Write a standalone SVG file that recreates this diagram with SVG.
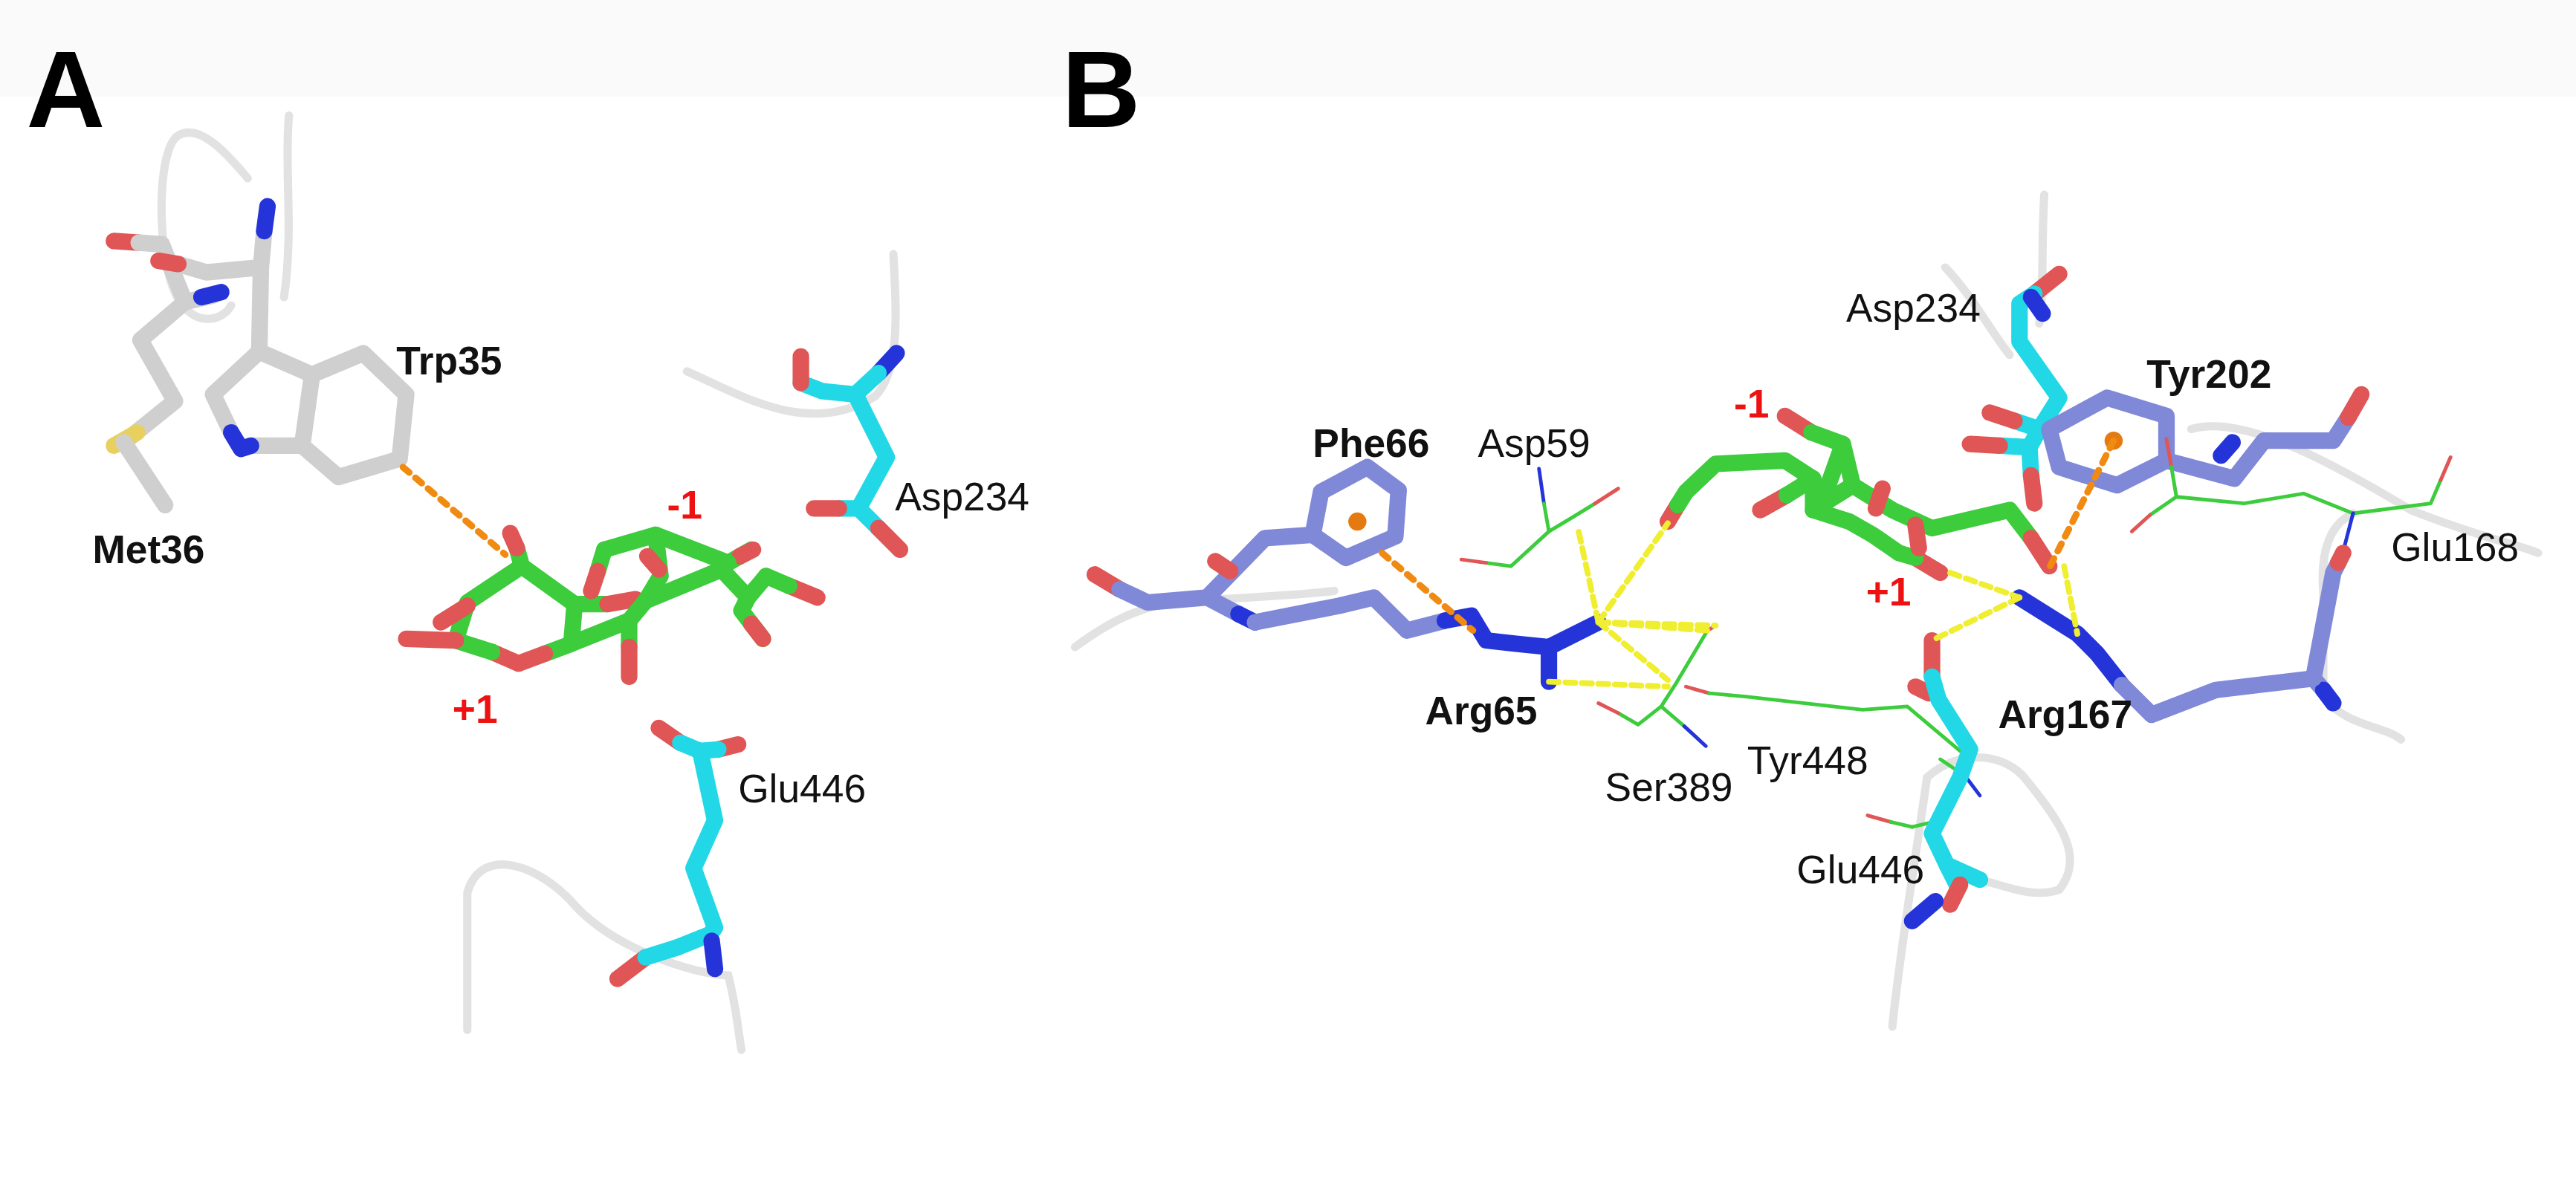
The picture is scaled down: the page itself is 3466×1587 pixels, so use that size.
<svg xmlns="http://www.w3.org/2000/svg" width="3466" height="1587" viewBox="0 0 3466 1587">
<style>
.rib{fill:none;stroke:#e2e2e2;stroke-width:5;stroke-linecap:round}
.s{fill:none;stroke-width:10;stroke-linecap:round;stroke-linejoin:round}
.t{fill:none;stroke-width:2.2;stroke-linecap:round;stroke-linejoin:round}
.w{stroke:#cfcfcf}.g{stroke:#3ccc3c}.c{stroke:#22d8e6}.p{stroke:#8088d8}
.r{stroke:#e05555}.b{stroke:#2434d8}.y{stroke:#e8d060}
.hb{fill:none;stroke:#f0ee30;stroke-width:3.5;stroke-dasharray:6 4;stroke-linecap:round}
.pi{fill:none;stroke:#f08a10;stroke-width:4;stroke-dasharray:5 5;stroke-linecap:round}
.lab{font-family:'Liberation Sans',Arial,sans-serif;font-size:24px;fill:#111}
.bl{font-weight:bold}
.red{fill:#ee1111;font-weight:bold}
.big{font-family:'Liberation Sans',Arial,sans-serif;font-size:66px;font-weight:bold;fill:#000}
</style>
<rect width="3466" height="1587" fill="#fff"/>
<rect x="0" y="0" width="3466" height="130" fill="#fafafa"/>
<g transform="scale(2.2218)">
<text class="big" x="16" y="77">A</text>
<text class="big" x="643" y="77">B</text>
<g id="panelA">
<path class="rib" d="M150,108 C135,90 120,75 108,82 C95,90 95,150 105,175 C115,200 135,195 140,185"/>
<path class="rib" d="M175,70 C172,100 178,140 172,180"/>
<path class="rib" d="M416,225 C450,240 490,265 530,240 C545,225 543,190 541,154"/>
<path class="rib" d="M283,624 L283,541 C290,515 320,520 345,545 C370,575 420,590 441,591 C446,610 447,625 449,636"/>
<g id="met36">
<polyline class="s w" points="129,179 112,183 85,206 106,243 75,268"/>
<line class="s y" x1="83" y1="262" x2="69" y2="270"/>
<line class="s w" x1="75" y1="268" x2="100" y2="306"/>
<line class="s r" x1="69" y1="146" x2="84" y2="147"/>
<polyline class="s w" points="84,147 98,148 112,183"/>
<line class="s b" x1="122" y1="180" x2="134" y2="177"/>
</g>
<g id="trp35">
<polygon class="s w" points="220,214 246,239 242,278 205,289 183,270 189,227"/>
<polyline class="s w" points="189,227 157,213 129,239 140,262"/>
<polyline class="s w" points="152,270 183,270"/>
<polyline class="s b" points="140,262 146,272 152,270"/>
<polyline class="s w" points="157,213 158,162 160,140"/>
<line class="s b" x1="160" y1="140" x2="162" y2="125"/>
<polyline class="s w" points="158,162 125,165 108,160"/>
<line class="s r" x1="108" y1="160" x2="96" y2="158"/>
</g>
<line class="pi" x1="244" y1="283" x2="306" y2="336"/>
<g id="sugarA">
<polyline class="s g" points="316,343 348,366 346,390 330,396"/>
<line class="s r" x1="330" y1="396" x2="314" y2="402"/>
<line class="s r" x1="314" y1="402" x2="298" y2="395"/>
<polyline class="s g" points="298,395 276,388 283,365 316,343"/>
<line class="s r" x1="276" y1="388" x2="246" y2="387"/>
<line class="s r" x1="283" y1="367" x2="267" y2="377"/>
<line class="s g" x1="316" y1="343" x2="313" y2="332"/>
<line class="s r" x1="313" y1="332" x2="309" y2="323"/>
<polyline class="s g" points="348,366 368,366"/>
<line class="s r" x1="368" y1="366" x2="385" y2="363"/>
<polyline class="s g" points="381,376 381,392"/>
<line class="s r" x1="381" y1="392" x2="381" y2="410"/>
<polyline class="s g" points="346,390 381,376 391,364"/>
<polyline class="s g" points="391,364 437,345 453,362 449,370 462,387"/>
<line class="s r" x1="455" y1="378" x2="462" y2="387"/>
<polyline class="s g" points="453,362 464,349"/>
<line class="s r" x1="478" y1="355" x2="495" y2="362"/>
<line class="s g" x1="464" y1="349" x2="478" y2="355"/>
<polyline class="s g" points="366,333 397,324 441,341 455,333"/>
<line class="s r" x1="448" y1="337" x2="456" y2="333"/>
<polyline class="s g" points="366,333 362,346"/>
<line class="s r" x1="362" y1="346" x2="358" y2="358"/>
<polyline class="s g" points="397,324 400,349 391,364"/>
<line class="s r" x1="392" y1="337" x2="399" y2="345"/>
<polyline class="s g" points="437,345 441,341"/>
</g>
<g id="asp234A">
<line class="s b" x1="543" y1="214" x2="532" y2="226"/>
<polyline class="s c" points="532,226 518,239 498,237 485,232"/>
<line class="s r" x1="485" y1="232" x2="485" y2="216"/>
<polyline class="s c" points="518,239 537,277 520,308 508,308"/>
<line class="s r" x1="508" y1="308" x2="493" y2="308"/>
<line class="s c" x1="520" y1="308" x2="532" y2="320"/>
<line class="s r" x1="532" y1="320" x2="545" y2="333"/>
</g>
<g id="glu446A">
<line class="s r" x1="399" y1="441" x2="412" y2="450"/>
<line class="s r" x1="447" y1="451" x2="435" y2="454"/>
<polyline class="s c" points="412,450 424,455 435,454"/>
<polyline class="s c" points="424,455 433,497 420,526 433,562 430,566 410,574"/>
<line class="s r" x1="391" y1="580" x2="374" y2="593"/>
<line class="s c" x1="410" y1="574" x2="391" y2="580"/>
<line class="s b" x1="431" y1="570" x2="433" y2="587"/>
</g>
<text class="lab bl" x="56" y="341">Met36</text>
<text class="lab bl" x="240" y="227">Trp35</text>
<text class="lab" x="542" y="309">Asp234</text>
<text class="lab" x="447" y="486">Glu446</text>
<text class="lab red" x="404" y="314">-1</text>
<text class="lab red" x="274" y="438">+1</text>
</g>
<g id="panelB">
<path class="rib" d="M651,392 C670,378 690,366 720,364 C760,362 790,360 808,358"/>
<path class="rib" d="M1238,118 C1236,150 1238,175 1235,196"/>
<path class="rib" d="M1178,162 C1195,180 1205,200 1217,215"/>
<path class="rib" d="M1327,260 C1360,250 1420,285 1460,309 C1500,325 1525,330 1537,335"/>
<path class="rib" d="M1425,311 C1410,318 1405,335 1407,360 L1407,422 C1420,440 1445,440 1454,448"/>
<path class="rib" d="M1146,622 C1150,580 1160,520 1167,471 C1185,455 1210,455 1225,470 C1250,500 1262,520 1247,539 C1230,545 1210,535 1199,533"/>
<g id="phe66">
<polygon class="s p" points="800,298 828,283 847,297 845,325 815,338 795,324"/>
<circle cx="822" cy="316" r="5.5" fill="#e57a10"/>
<line class="s r" x1="663" y1="348" x2="678" y2="357"/>
<polyline class="s p" points="678,357 695,365 731,362 766,326 795,324"/>
<line class="s r" x1="736" y1="340" x2="745" y2="346"/>
<polyline class="s p" points="731,362 750,372"/>
<line class="s b" x1="750" y1="372" x2="760" y2="377"/>
</g>
<g id="arg65">
<polyline class="s p" points="760,377 811,367 832,362 852,382 875,376"/>
<polyline class="s b" points="875,376 891,373 900,388 918,390 938,392"/>
<line class="s b" x1="938" y1="392" x2="968" y2="377"/>
<line class="s b" x1="938" y1="392" x2="938" y2="413"/>
</g>
<line class="pi" x1="837" y1="335" x2="892" y2="382"/>
<g id="asp59">
<polyline class="t b" points="932,284 935,305"/>
<polyline class="t g" points="935,305 938,322 915,343 900,341"/>
<line class="t r" x1="900" y1="341" x2="885" y2="339"/>
<polyline class="t g" points="938,322 953,313 966,305"/>
<line class="t r" x1="966" y1="305" x2="980" y2="296"/>
</g>
<g id="ser389">
<line class="t r" x1="1034" y1="382" x2="1039" y2="379"/>
<polyline class="t g" points="1034,382 1015,414 1006,428 992,439 980,432"/>
<line class="t r" x1="980" y1="432" x2="968" y2="426"/>
<line class="t g" x1="1006" y1="428" x2="1020" y2="440"/>
<line class="t b" x1="1020" y1="440" x2="1033" y2="452"/>
</g>
<g id="tyr448">
<line class="t r" x1="1021" y1="416" x2="1035" y2="420"/>
<polyline class="t g" points="1035,420 1057,422 1128,430 1155,428 1193,460 1175,497 1158,501"/>
<line class="t r" x1="1145" y1="498" x2="1131" y2="494"/>
<line class="t g" x1="1158" y1="501" x2="1145" y2="498"/>
<line class="t g" x1="1175" y1="460" x2="1190" y2="470"/>
<line class="t b" x1="1190" y1="470" x2="1199" y2="482"/>
</g>
<g id="glu446B">
<line class="s r" x1="1170" y1="388" x2="1170" y2="410"/>
<line class="s r" x1="1160" y1="416" x2="1168" y2="420"/>
<polyline class="s c" points="1170,410 1174,424 1193,454 1187,471 1170,505 1179,524 1199,533"/>
<polyline class="s c" points="1179,524 1185,536"/>
<line class="s r" x1="1187" y1="536" x2="1181" y2="548"/>
<line class="s b" x1="1172" y1="546" x2="1158" y2="558"/>
</g>
<g id="sugarB">
<line class="s r" x1="1010" y1="316" x2="1016" y2="306"/>
<polyline class="s g" points="1016,306 1021,298 1039,281 1081,279 1098,290"/>
<line class="s r" x1="1081" y1="252" x2="1097" y2="262"/>
<polyline class="s g" points="1097,262 1116,269 1122,294 1146,309 1170,320 1217,309 1230,326"/>
<line class="s r" x1="1230" y1="326" x2="1241" y2="343"/>
<polyline class="s g" points="1098,290 1098,309 1122,294"/>
<line class="s r" x1="1066" y1="309" x2="1082" y2="300"/>
<line class="s g" x1="1082" y1="300" x2="1098" y2="290"/>
<line class="s r" x1="1140" y1="296" x2="1136" y2="308"/>
<polyline class="s g" points="1098,309 1120,316 1134,324 1150,335"/>
<line class="s r" x1="1160" y1="338" x2="1175" y2="347"/>
<line class="s g" x1="1150" y1="335" x2="1160" y2="338"/>
<line class="s g" x1="1116" y1="269" x2="1105" y2="300"/>
<line class="s r" x1="1160" y1="318" x2="1162" y2="332"/>
</g>
<g id="asp234B">
<line class="s r" x1="1247" y1="166" x2="1232" y2="178"/>
<polyline class="s c" points="1232,178 1223,184 1223,207 1247,241 1235,260"/>
<line class="s b" x1="1230" y1="180" x2="1237" y2="190"/>
<line class="s c" x1="1235" y1="260" x2="1220" y2="255"/>
<line class="s r" x1="1220" y1="255" x2="1205" y2="250"/>
<polyline class="s c" points="1235,260 1229,271 1211,270"/>
<line class="s r" x1="1211" y1="270" x2="1193" y2="269"/>
<line class="s c" x1="1229" y1="271" x2="1230" y2="288"/>
<line class="s r" x1="1230" y1="288" x2="1232" y2="305"/>
</g>
<g id="tyr202">
<polygon class="s p" points="1241,260 1276,241 1312,252 1312,279 1282,294 1247,283"/>
<circle cx="1280" cy="267" r="5.5" fill="#e57a10"/>
<polyline class="s p" points="1312,279 1353,290 1371,267 1413,267 1422,253"/>
<line class="s r" x1="1422" y1="253" x2="1430" y2="239"/>
<line class="s b" x1="1345" y1="276" x2="1352" y2="268"/>
</g>
<g id="glu168">
<line class="t r" x1="1312" y1="266" x2="1315" y2="283"/>
<polyline class="t g" points="1315,283 1318,301 1302,312"/>
<line class="t r" x1="1302" y1="312" x2="1291" y2="322"/>
<polyline class="t g" points="1318,301 1359,305 1395,299 1425,311 1472,305 1478,291"/>
<line class="t r" x1="1478" y1="291" x2="1484" y2="277"/>
<line class="t b" x1="1425" y1="311" x2="1419" y2="334"/>
</g>
<g id="arg167">
<polyline class="s b" points="1223,362 1258,384 1270,396 1285,415"/>
<polyline class="s p" points="1285,415 1303,433 1342,418 1401,411 1407,418"/>
<line class="s b" x1="1407" y1="418" x2="1413" y2="426"/>
<polyline class="s p" points="1401,411 1413,347 1416,341"/>
<line class="s r" x1="1416" y1="341" x2="1419" y2="335"/>
</g>
<g id="contacts">
<line class="hb" x1="968" y1="377" x2="956" y2="322"/>
<line class="hb" x1="968" y1="377" x2="1010" y2="317"/>
<line class="hb" x1="968" y1="377" x2="1039" y2="379"/>
<line class="hb" x1="968" y1="377" x2="1010" y2="412"/>
<line class="hb" x1="968" y1="377" x2="1034" y2="382"/>
<line class="hb" x1="938" y1="413" x2="1010" y2="416"/>
<line class="hb" x1="1181" y1="347" x2="1223" y2="362"/>
<line class="hb" x1="1223" y1="362" x2="1170" y2="388"/>
<line class="hb" x1="1250" y1="343" x2="1258" y2="384"/>
<line class="pi" x1="1280" y1="267" x2="1240" y2="346"/>
</g>
<text class="lab bl" x="795" y="277">Phe66</text>
<text class="lab" x="895" y="277">Asp59</text>
<text class="lab bl" x="863" y="439">Arg65</text>
<text class="lab" x="972" y="485">Ser389</text>
<text class="lab" x="1058" y="469">Tyr448</text>
<text class="lab" x="1088" y="535">Glu446</text>
<text class="lab" x="1118" y="195">Asp234</text>
<text class="lab bl" x="1300" y="235">Tyr202</text>
<text class="lab" x="1448" y="340">Glu168</text>
<text class="lab bl" x="1210" y="441">Arg167</text>
<text class="lab red" x="1050" y="253">-1</text>
<text class="lab red" x="1130" y="367">+1</text>
</g>
</g>
</svg>
